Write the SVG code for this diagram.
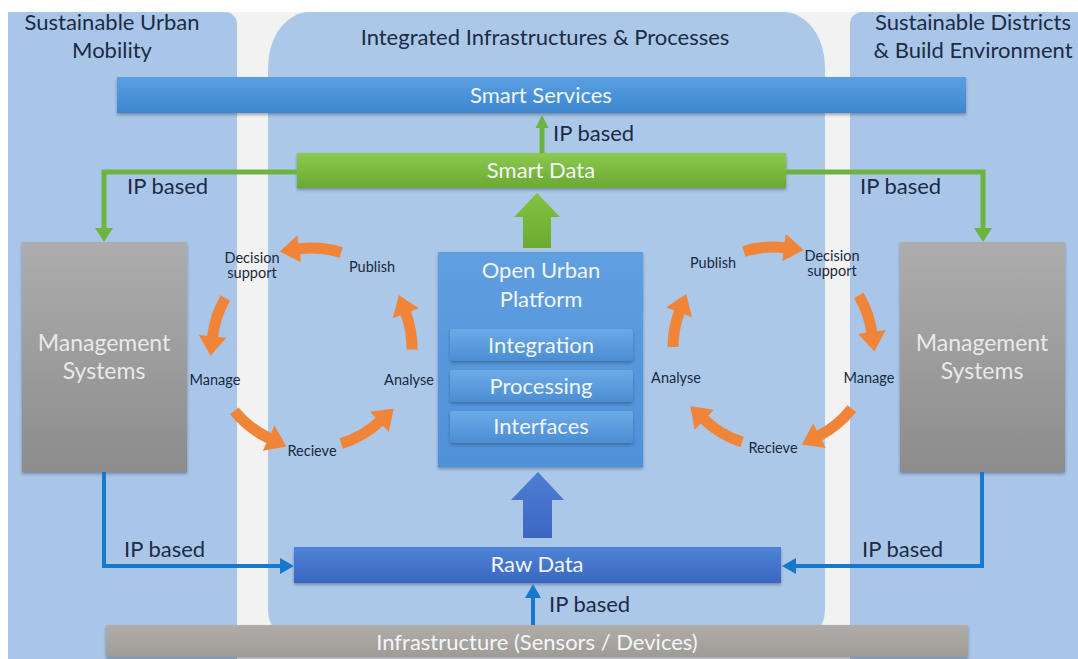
<svg xmlns="http://www.w3.org/2000/svg" width="1078" height="659" viewBox="0 0 1078 659">
<defs>
<style>
text{font-family:Lato,"Liberation Sans",sans-serif}
.title{font-size:22px;fill:#1d2b44;text-anchor:middle}
.bar{font-size:22px;fill:#f2f6fb;text-anchor:middle}
.ms{font-size:23px;fill:#e9e9e9;text-anchor:middle}
.ip{font-size:22px;fill:#1d2b44}
.cy{font-size:14.5px;fill:#1a2840;text-anchor:middle}
.panel{fill:#a9c6e8}
.mid{fill:#abc8e9}
.green{stroke:#6cb33f;stroke-width:5;fill:none}
.blue{stroke:#1878cc;stroke-width:4;fill:none}
.orange{stroke:#f0853a;stroke-width:11;fill:none}
</style>
<linearGradient id="gServ" x1="0" y1="0" x2="0" y2="1"><stop offset="0" stop-color="#5aa0e2"/><stop offset="1" stop-color="#3d85cf"/></linearGradient>
<linearGradient id="gData" x1="0" y1="0" x2="0" y2="1"><stop offset="0" stop-color="#8dc94e"/><stop offset="1" stop-color="#69a932"/></linearGradient>
<linearGradient id="gRaw" x1="0" y1="0" x2="0" y2="1"><stop offset="0" stop-color="#4f84d6"/><stop offset="1" stop-color="#3a66c0"/></linearGradient>
<linearGradient id="gMs" x1="0" y1="0" x2="0" y2="1"><stop offset="0" stop-color="#adadad"/><stop offset="1" stop-color="#8c8c8c"/></linearGradient>
<linearGradient id="gInfra" x1="0" y1="0" x2="0" y2="1"><stop offset="0" stop-color="#b0ada8"/><stop offset="1" stop-color="#9f9c97"/></linearGradient>
<linearGradient id="gPlat" x1="0" y1="0" x2="0" y2="1"><stop offset="0" stop-color="#5f9fe0"/><stop offset="1" stop-color="#4f91d8"/></linearGradient>
<linearGradient id="gInner" x1="0" y1="0" x2="0" y2="1"><stop offset="0" stop-color="#6daae6"/><stop offset="1" stop-color="#4b8dd4"/></linearGradient>
<linearGradient id="gBigG" x1="0" y1="0" x2="0" y2="1"><stop offset="0" stop-color="#84c23f"/><stop offset="1" stop-color="#6aab30"/></linearGradient>
<linearGradient id="gBigB" x1="0" y1="0" x2="0" y2="1"><stop offset="0" stop-color="#4d7fd3"/><stop offset="1" stop-color="#3d66c2"/></linearGradient>
<filter id="sh" x="-5%" y="-20%" width="110%" height="150%"><feDropShadow dx="0" dy="2" stdDeviation="1.5" flood-color="#26324a" flood-opacity="0.4"/></filter>
<marker id="mG" markerUnits="userSpaceOnUse" markerWidth="20" markerHeight="20" refX="0" refY="0" viewBox="0 -10 16 20" orient="auto" overflow="visible"><path d="M0,-9 L14,0 L0,9 Z" fill="#6cb33f"/></marker>
<marker id="mGs" markerUnits="userSpaceOnUse" markerWidth="20" markerHeight="20" refX="0" refY="0" viewBox="0 -10 16 20" orient="auto" overflow="visible"><path d="M0,-6.5 L13,0 L0,6.5 Z" fill="#6cb33f"/></marker>
<marker id="mB" markerUnits="userSpaceOnUse" markerWidth="20" markerHeight="20" refX="0" refY="0" viewBox="0 -10 16 20" orient="auto" overflow="visible"><path d="M0,-8 L14,0 L0,8 Z" fill="#1878cc"/></marker>
<marker id="mO" markerUnits="userSpaceOnUse" markerWidth="30" markerHeight="30" refX="0" refY="0" viewBox="0 -13 18 26" orient="auto" overflow="visible"><path d="M-1,-12 L16,0 L-1,12 Z" fill="#f0853a"/></marker>
</defs>

<g id="background">
<rect x="0" y="0" width="1078" height="659" fill="#ffffff"/>
<rect x="8" y="12" width="1070" height="647" fill="#f2f2f2"/>
<path class="panel" d="M8,12 H225 A12,12 0 0 1 237,24 V659 H8 Z"/>
<path class="panel" d="M862,12 H1078 V659 H850 V24 A12,12 0 0 1 862,12 Z"/>
<path class="mid" d="M268,67 A42,55 0 0 1 310,12 H783 A42,55 0 0 1 825,67 V608 Q825,626 815,630 H278 Q268,626 268,608 Z"/>
<text class="title" x="112" y="30">Sustainable Urban</text>
<text class="title" x="112" y="58">Mobility</text>
<text class="title" x="545" y="45">Integrated Infrastructures &amp; Processes</text>
<text class="title" x="973" y="30">Sustainable Districts</text>
<text class="title" x="973" y="58">&amp; Build Environment</text>
</g>

<g id="smart-services">
<rect x="117" y="77" width="849" height="36" fill="url(#gServ)" filter="url(#sh)"/>
<text class="bar" x="541" y="103">Smart Services</text>
</g>

<g id="smart-data">
<rect x="297" y="153" width="489" height="35" fill="url(#gData)" filter="url(#sh)"/>
<text class="bar" x="541" y="178">Smart Data</text>
</g>

<g id="management-left">
<rect x="22" y="242" width="165" height="230" fill="url(#gMs)" filter="url(#sh)"/>
<text class="ms" x="104" y="351">Management</text>
<text class="ms" x="104" y="379">Systems</text>
</g>

<g id="management-right">
<rect x="900" y="242" width="165" height="230" fill="url(#gMs)" filter="url(#sh)"/>
<text class="ms" x="982" y="351">Management</text>
<text class="ms" x="982" y="379">Systems</text>
</g>

<g id="open-urban-platform">
<rect x="438" y="252" width="205" height="215" fill="url(#gPlat)" filter="url(#sh)"/>
<text class="bar" x="541" y="278">Open Urban</text>
<text class="bar" x="541" y="307">Platform</text>
<g id="integration">
<rect x="450" y="329" width="183" height="32" rx="3" fill="url(#gInner)" filter="url(#sh)"/>
<text class="bar" x="541" y="353">Integration</text>
</g>
<g id="processing">
<rect x="450" y="370" width="183" height="32" rx="3" fill="url(#gInner)" filter="url(#sh)"/>
<text class="bar" x="541" y="394">Processing</text>
</g>
<g id="interfaces">
<rect x="450" y="411" width="183" height="32" rx="3" fill="url(#gInner)" filter="url(#sh)"/>
<text class="bar" x="541" y="434">Interfaces</text>
</g>
</g>

<g id="raw-data">
<rect x="294" y="547" width="487" height="36" fill="url(#gRaw)" filter="url(#sh)"/>
<text class="bar" x="537" y="572">Raw Data</text>
</g>

<g id="infrastructure">
<rect x="106" y="625" width="862" height="32" fill="url(#gInfra)" filter="url(#sh)"/>
<text class="bar" x="537" y="650">Infrastructure (Sensors / Devices)</text>
</g>

<g id="cycle-left">
<text class="cy" x="252" y="263">Decision</text>
<text class="cy" x="252" y="278">support</text>
<text class="cy" x="372" y="272">Publish</text>
<text class="cy" x="215" y="385">Manage</text>
<text class="cy" x="409" y="385">Analyse</text>
<text class="cy" x="312" y="456">Recieve</text>
</g>

<g id="cycle-right">
<text class="cy" x="832" y="261">Decision</text>
<text class="cy" x="832" y="276">support</text>
<text class="cy" x="713" y="268">Publish</text>
<text class="cy" x="869" y="383">Manage</text>
<text class="cy" x="676" y="383">Analyse</text>
<text class="cy" x="773" y="453">Recieve</text>
</g>

<g id="connectors">
<path class="green" d="M297,172 H104 V228" marker-end="url(#mG)"/>
<path class="green" d="M786,172 H983 V228" marker-end="url(#mG)"/>
<path class="green" d="M542,153 V128" stroke-width="4" marker-end="url(#mGs)"/>
<text class="ip" x="127" y="194">IP based</text>
<text class="ip" x="860" y="194">IP based</text>
<text class="ip" x="553" y="141">IP based</text>

<path class="blue" d="M104,472 V566 H280" marker-end="url(#mB)"/>
<path class="blue" d="M982,472 V566 H796" marker-end="url(#mB)"/>
<path class="blue" d="M533,625 V598" marker-end="url(#mB)"/>
<text class="ip" x="124" y="557">IP based</text>
<text class="ip" x="862" y="557">IP based</text>
<text class="ip" x="549" y="612">IP based</text>

<path d="M514,217 L537,193 L560,217 L551,217 L551,248 L523,248 L523,217 Z" fill="url(#gBigG)"/>
<path d="M511,500 L538,472 L564,500 L552,500 L552,538 L523,538 L523,500 Z" fill="url(#gBigB)"/>

<path class="orange" d="M341.2,252.4 A100,100 0 0 0 298.1,249" marker-end="url(#mO)"/>
<path class="orange" d="M225.4,298 A100,100 0 0 0 212.5,337.5" marker-end="url(#mO)"/>
<path class="orange" d="M234.3,410.9 A100,100 0 0 0 269.7,438.6" marker-end="url(#mO)"/>
<path class="orange" d="M341.2,443.6 A100,100 0 0 0 380.2,421.1" marker-end="url(#mO)"/>
<path class="orange" d="M412,349.7 A100,100 0 0 0 405.4,312.2" marker-end="url(#mO)"/>

<path class="orange" d="M743.8,251.4 A100,100 0 0 1 785.2,247.7" marker-end="url(#mO)"/>
<path class="orange" d="M858.7,295.5 A100,100 0 0 1 872,333.1" marker-end="url(#mO)"/>
<path class="orange" d="M851.8,408.6 A100,100 0 0 1 818.4,436.1" marker-end="url(#mO)"/>
<path class="orange" d="M742.1,442.1 A100,100 0 0 1 703.5,418.9" marker-end="url(#mO)"/>
<path class="orange" d="M673,347 A100,100 0 0 1 679.6,311.2" marker-end="url(#mO)"/>
</g>
</svg>
